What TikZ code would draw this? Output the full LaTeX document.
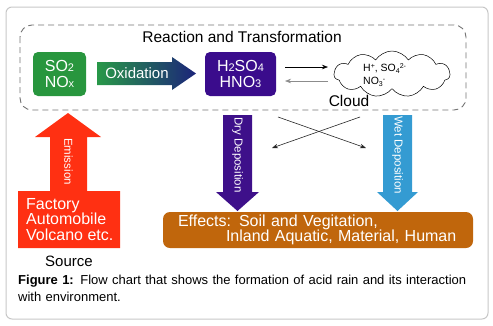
\documentclass[tikz,border=0pt]{standalone}
\usepackage{fontspec}
\setmainfont{Liberation Sans}
\usetikzlibrary{shapes.symbols,arrows.meta}
\definecolor{sgreen}{RGB}{40,150,62}
\definecolor{spurple}{RGB}{58,12,140}
\definecolor{dpurple}{RGB}{62,16,138}
\definecolor{wblue}{RGB}{52,155,210}
\definecolor{sred}{RGB}{255,48,18}
\definecolor{effc}{RGB}{192,102,12}
\definecolor{oxl}{RGB}{40,152,72}
\definecolor{oxr}{RGB}{28,36,122}
\newcommand{\smd}[1]{{\fontsize{11}{11}\selectfont #1}}
\newcommand{\ionsup}[1]{\raisebox{3.5pt}{\fontsize{7}{7}\selectfont #1}}
\newcommand{\ionsub}[1]{\raisebox{-2pt}{\fontsize{7}{7}\selectfont #1}}
\tikzset{
  chem/.style={rounded corners=5pt, fill=#1, text=white, align=center, minimum width=53pt, minimum height=44pt, inner sep=0pt, font=\fontsize{16}{16}\selectfont},
  rottext/.style={text=white, rotate=-90, font=\fontsize{11.5}{12}\selectfont, inner sep=0pt},
  whitetext/.style={text=white, inner sep=0pt},
  thinarrow/.style={-{Stealth[length=6pt,width=4.5pt]}, line width=0.6pt},
}
\begin{document}
\begin{tikzpicture}[x=1pt,y=-1pt]
\useasboundingbox (0,0) rectangle (493,325);
% outer frame
\draw[color=black!22, line width=1pt, rounded corners=6pt] (6,7) rectangle (488,319);
% dashed box
\draw[color=black!55, line width=0.9pt, dash pattern=on 6pt off 4pt, rounded corners=12pt] (20,25) rectangle (466,110);
\node[inner sep=0pt, font=\fontsize{15.5}{16}\selectfont] (title) at (242,37) {Reaction and Transformation};
% SO2 NOx
\node[chem=sgreen] (so2) at (59.5,74) {SO\smd{2}\\NO\smd{x}};
% oxidation arrow
\shade[left color=oxl, right color=oxr] (97,62) -- (172,62) -- (172,57) -- (196,73.5) -- (172,90) -- (172,85) -- (97,85) -- cycle;
\node[whitetext, font=\fontsize{15}{15}\selectfont] (oxi) at (137,73.5) {Oxidation};
% H2SO4 HNO3
\node[chem=spurple, minimum width=71pt] (h2so4) at (240.5,74) {H\smd{2}SO\smd{4}\\HNO\smd{3}};
% cloud
\node[cloud, cloud puffs=11, cloud puff arc=115, draw, line width=0.5pt, aspect=2.6, minimum width=116pt, minimum height=46pt, inner sep=0pt] (cloud) at (392,74) {};
\node[inner sep=0pt, align=left, anchor=west, font=\fontsize{10.5}{13}\selectfont] (ions) at (363,75) {H\ionsup{+}, SO\ionsub{4}\ionsup{2-}\\NO\ionsub{3}\ionsup{-}};
\node[inner sep=0pt, font=\fontsize{15.5}{16}\selectfont] (cloudlbl) at (349,101) {Cloud};
% arrows between acid and cloud
\coordinate (a1s) at (285,67);
\coordinate (a1e) at (328,67);
\coordinate (a2s) at (328,81);
\coordinate (a2e) at (285,81);
\draw[thinarrow] (a1s) -- (a1e);
\draw[thinarrow, color=black!45] (a2s) -- (a2e);
% cross arrows
\coordinate (c1s) at (278,117);
\coordinate (c1e) at (366,148);
\coordinate (c2s) at (360,117);
\coordinate (c2e) at (272,148);
\draw[thinarrow, color=black!85] (c1s) -- (c1e);
\draw[thinarrow, color=black!85] (c2s) -- (c2e);
% dry deposition arrow
\fill[dpurple] (223,115) -- (252,115) -- (252,192) -- (259,192) -- (237.5,211) -- (216,192) -- (223,192) -- cycle;
\node[rottext] (dry) at (237.5,155) {Dry Deposition};
% wet deposition arrow
\fill[wblue] (383,115) -- (412,115) -- (412,192) -- (418,192) -- (397.5,211) -- (377,192) -- (383,192) -- cycle;
\node[rottext] (wet) at (397.5,155) {Wet Deposition};
% effects
\node[rounded corners=7pt, fill=effc, text=white, minimum width=310pt, minimum height=36pt, inner xsep=15pt, inner ysep=0pt, text width=280pt, align=left, font=\fontsize{16}{15.5}\selectfont] (eff) at (318,230) {Effects: Soil and Vegitation,\\\hspace*{48pt}Inland Aquatic, Material, Human};
% source arrow and box
\fill[sred] (18,191) -- (50,191) -- (50,137) -- (35,137) -- (68,113) -- (101,137) -- (87,137) -- (87,191) -- (120,191) -- (120,248) -- (18,248) -- cycle;
\node[rottext] (emis) at (68.5,161.5) {Emission};
\node[whitetext, align=left, anchor=north west, font=\fontsize{16}{15.5}\selectfont] (src) at (26,198) {Factory\\Automobile\\Volcano etc.};
\node[inner sep=0pt, font=\fontsize{15}{15}\selectfont] (srclbl) at (69,261) {Source};
% caption
\node[inner sep=0pt, anchor=north west, align=left, text width=460pt, font=\fontsize{13}{17}\selectfont] (cap) at (18,275) {\textbf{Figure 1:} Flow chart that shows the formation of acid rain and its interaction\\with environment.};
\end{tikzpicture}
\end{document}
